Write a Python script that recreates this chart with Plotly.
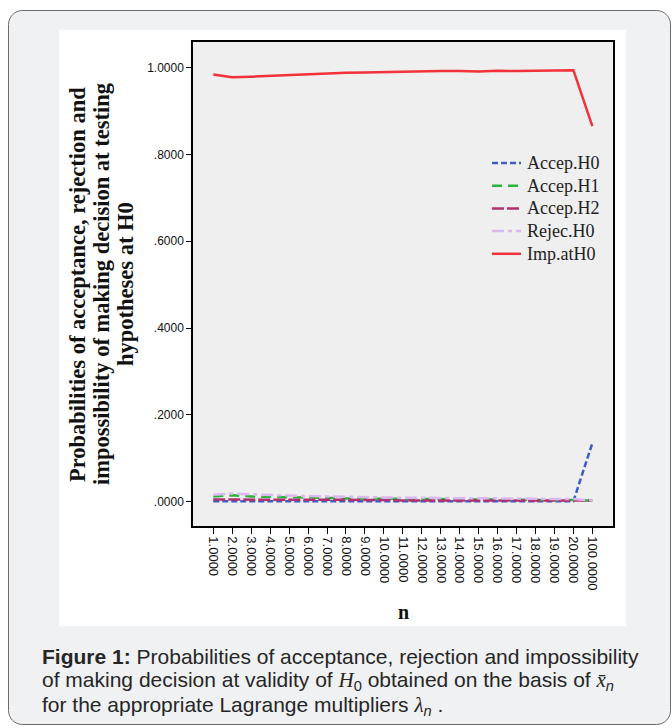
import math
import plotly.graph_objects as go

# ---- data ---------------------------------------------------------------
n_labels = ["1.0000", "2.0000", "3.0000", "4.0000", "5.0000", "6.0000", "7.0000",
            "8.0000", "9.0000", "10.0000", "11.0000", "12.0000", "13.0000", "14.0000",
            "15.0000", "16.0000", "17.0000", "18.0000", "19.0000", "20.0000", "100.0000"]

accep_h0 = [0.001, 0.001, 0.001, 0.001, 0.001, 0.001, 0.001, 0.001, 0.001, 0.001,
            0.001, 0.001, 0.001, 0.001, 0.001, 0.001, 0.001, 0.001, 0.001, 0.001, 0.135]
accep_h1 = [0.012, 0.015, 0.012, 0.011, 0.010, 0.009, 0.008, 0.008, 0.007, 0.007,
            0.006, 0.006, 0.006, 0.005, 0.005, 0.005, 0.004, 0.004, 0.004, 0.004, 0.002]
accep_h2 = [0.005, 0.005, 0.005, 0.004, 0.004, 0.004, 0.004, 0.004, 0.004, 0.004,
            0.003, 0.003, 0.003, 0.003, 0.003, 0.003, 0.003, 0.003, 0.003, 0.003, 0.003]
rejec_h0 = [0.016, 0.019, 0.017, 0.015, 0.014, 0.013, 0.012, 0.011, 0.010, 0.010,
            0.009, 0.009, 0.008, 0.008, 0.008, 0.008, 0.007, 0.007, 0.006, 0.006, 0.003]
imp_h0 = [0.984, 0.978, 0.979, 0.981, 0.983, 0.985, 0.987, 0.988, 0.989, 0.990,
          0.990, 0.991, 0.992, 0.992, 0.991, 0.993, 0.992, 0.993, 0.994, 0.994, 0.865]

series_names = ["Accep.H0", "Accep.H1", "Accep.H2", "Rejec.H0", "Imp.atH0"]
series_values = [accep_h0, accep_h1, accep_h2, rejec_h0, imp_h0]

y_ticks = [0.0, 0.2, 0.4, 0.6, 0.8, 1.0]
y_ticktext = [".0000", ".2000", ".4000", ".6000", ".8000", "1.0000"]

# ---- page geometry (pixels) --------------------------------------------
W, H = 672, 728
L, R, T, B = 193, 59, 42, 202
PW, PH = W - L - R, H - T - B


def px(x):
    return (x - L) / PW


def py(y):
    return (H - B - y) / PH


def rounded_rect(x0, y0, x1, y1, r):
    pts = []
    corners = [(x1 - r, y0 + r, -90, 0), (x1 - r, y1 - r, 0, 90),
               (x0 + r, y1 - r, 90, 180), (x0 + r, y0 + r, 180, 270)]
    for cx, cy, a0, a1 in corners:
        for i in range(9):
            a = math.radians(a0 + (a1 - a0) * i / 8)
            pts.append((cx + r * math.cos(a), cy + r * math.sin(a)))
    return "M " + " L ".join(f"{px(x):.5f},{py(y):.5f}" for x, y in pts) + " Z"


SERIF = "Liberation Serif, Times New Roman, serif"
SANS = "Liberation Sans, Arial, sans-serif"

styles = [
    ("#3d5cc6", "6px,3px"),
    ("#2db33c", "10px,6px"),
    ("#b3306f", "12px,3px"),
    ("#dcb8f2", "12px,4px,4px,4px"),
    ("#f2313b", "solid"),
]

fig = go.Figure()
for name, vals, (color, dash) in zip(series_names, series_values, styles):
    fig.add_trace(go.Scatter(
        x=n_labels, y=vals, mode="lines", name=name, showlegend=False,
        line=dict(color=color, width=2.5, dash=dash),
    ))

shapes = [
    # outer card
    dict(type="path", path=rounded_rect(8.5, 10.5, 670.5, 724.5, 14),
         xref="paper", yref="paper", fillcolor="#f0f1f3",
         line=dict(color="#6a6a6a", width=1), layer="below"),
    # white chart panel
    dict(type="rect", x0=px(59), x1=px(626), y0=py(626), y1=py(30),
         xref="paper", yref="paper", fillcolor="white",
         line=dict(width=0), layer="below"),
    # plotting area
    dict(type="rect", x0=0, x1=1, y0=0, y1=1, xref="paper", yref="paper",
         fillcolor="#efefef", line=dict(width=0), layer="below"),
]

annotations = []

# y-axis title, one line at a time for tight leading
y_title = ["Probabilities of acceptance, rejection and",
           "impossibility of making decision at testing",
           "hypotheses at H0"]
for line, xc in zip(y_title, [77, 101, 125]):
    annotations.append(dict(
        text=f"<b>{line}</b>", x=px(xc), y=py(284), xref="paper", yref="paper",
        textangle=-90, showarrow=False, xanchor="center", yanchor="middle",
        font=dict(family=SERIF, size=22.5, color="#111")))

annotations.append(dict(
    text="<b>n</b>", x=px(403), y=py(612), xref="paper", yref="paper",
    showarrow=False, font=dict(family=SERIF, size=20, color="#111"),
    xanchor="center", yanchor="middle"))

# legend drawn inside the plotting area
for i, (name, (color, dash)) in enumerate(zip(series_names, styles)):
    yc = 163 + 22.7 * i
    shapes.append(dict(type="line", xref="paper", yref="paper",
                       x0=px(492), x1=px(521), y0=py(yc), y1=py(yc),
                       line=dict(color=color, width=2.5, dash=dash)))
    annotations.append(dict(
        text=name, x=px(525), y=py(yc), xref="paper", yref="paper",
        showarrow=False, xanchor="left", yanchor="middle",
        font=dict(family=SERIF, size=18, color="#222")))

ital = "font-family:'Liberation Serif',serif;font-style:italic"
caption = [
    "<b>Figure 1:</b> Probabilities of acceptance, rejection and impossibility",
    f"of making decision at validity of <span style=\"{ital}\">H</span><sub>0</sub> "
    f"obtained on the basis of <span style=\"{ital}\">x\u0304</span><sub><i>n</i></sub>",
    f"for the appropriate Lagrange multipliers <span style=\"{ital}\">\u03bb</span><sub><i>n</i></sub> .",
]
for i, line in enumerate(caption):
    annotations.append(dict(
        text=line, x=px(40), y=py(656 + 25 * i), xref="paper", yref="paper",
        showarrow=False, xanchor="left", yanchor="middle", align="left",
        font=dict(family=SANS, size=21, color="#262626"),
    ))

fig.update_layout(
    width=W, height=H,
    margin=dict(l=L, r=R, t=T, b=B),
    paper_bgcolor="white",
    plot_bgcolor="rgba(0,0,0,0)",
    shapes=shapes,
    annotations=annotations,
    showlegend=False,
    xaxis=dict(
        type="category", categoryorder="array", categoryarray=n_labels,
        range=[-1.07, 21.09], showgrid=False, zeroline=False,
        showline=True, linecolor="black", linewidth=1.5, mirror=True,
        ticks="outside", ticklen=6, tickcolor="black", tickwidth=1,
        tickangle=90, tickfont=dict(family=SANS, size=13, color="#111"),
    ),
    yaxis=dict(
        range=[-0.056, 1.059], tickvals=y_ticks, ticktext=y_ticktext,
        showgrid=False, zeroline=False,
        showline=True, linecolor="black", linewidth=1.5, mirror=True,
        ticks="outside", ticklen=5, tickcolor="black", tickwidth=1,
        tickfont=dict(family=SANS, size=12, color="#111"),
    ),
)

fig.write_html("out.html")
